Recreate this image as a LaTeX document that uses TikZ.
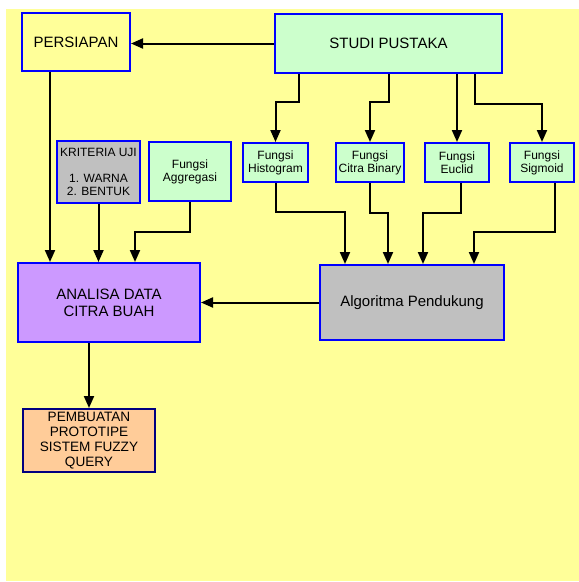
\documentclass[tikz,border=0pt]{standalone}
\usepackage{fontspec}
\setmainfont{Liberation Sans}
\usetikzlibrary{arrows.meta,calc}
\definecolor{bgyellow}{HTML}{FFFF99}
\definecolor{boxgreen}{HTML}{CCFFCC}
\definecolor{boxgray}{HTML}{C0C0C0}
\definecolor{boxpurple}{HTML}{CC99FF}
\definecolor{boxorange}{HTML}{FFCC99}
\definecolor{bordblue}{HTML}{0000FF}
\definecolor{bordnavy}{HTML}{000080}
\tikzset{
  box/.style={draw=bordblue, line width=2pt, rectangle, inner sep=0pt, align=center, text=black},
  bigtxt/.style={font=\fontsize{15}{17}\selectfont},
  smalltxt/.style={font=\fontsize{12}{13}\selectfont},
  midtxt/.style={font=\fontsize{13.6}{15}\selectfont},
  arr/.style={line width=2pt, -{Triangle[length=12pt,width=10pt]}}
}
\begin{document}
\begin{tikzpicture}[x=1pt,y=-1pt]
\useasboundingbox (0,0) rectangle (579,582);
\fill[white] (0,0) rectangle (579,582);
\fill[bgyellow] (6,9) rectangle (579,581);
% nodes
\node[box, bigtxt, fill=bgyellow, minimum width=108pt, minimum height=58pt] (pers) at (76,42) {PERSIAPAN};
\node[box, bigtxt, fill=boxgreen, minimum width=227pt, minimum height=59pt] (studi) at (388.5,43.5) {STUDI PUSTAKA};
\node[box, smalltxt, fill=boxgray, minimum width=83pt, minimum height=62pt] (krit) at (98.5,172) {KRITERIA UJI\\[13pt]1. WARNA\\2. BENTUK};
\node[box, smalltxt, fill=boxgreen, minimum width=82pt, minimum height=59pt] (aggr) at (190,171.5) {Fungsi\\Aggregasi};
\node[box, smalltxt, fill=boxgreen, minimum width=65pt, minimum height=39pt] (hist) at (275.5,162.5) {Fungsi\\Histogram};
\node[box, smalltxt, fill=boxgreen, minimum width=68pt, minimum height=39pt] (bin) at (370,162.5) {Fungsi\\Citra Binary};
\node[box, smalltxt, fill=boxgreen, minimum width=64pt, minimum height=39pt] (euc) at (457,162.5) {Fungsi\\Euclid};
\node[box, smalltxt, fill=boxgreen, minimum width=64pt, minimum height=39pt] (sig) at (542,162.5) {Fungsi\\Sigmoid};
\node[box, bigtxt, fill=boxgray, minimum width=184pt, minimum height=75pt] (algo) at (412,302.5) {Algoritma Pendukung};
\node[box, bigtxt, fill=boxpurple, minimum width=182pt, minimum height=79pt] (anal) at (109,302.5) {ANALISA DATA\\CITRA BUAH};
\node[box, midtxt, draw=bordnavy, fill=boxorange, minimum width=132pt, minimum height=63pt] (pemb) at (89,440.5) {PEMBUATAN\\PROTOTIPE\\SISTEM FUZZY\\QUERY};
% connectors
\draw[arr] (studi.west) -- (studi.west -| pers.east);
\draw[arr] ([xshift=25pt]studi.south west) -- ++(0,28) -| (hist.north);
\draw[arr] (studi.south) -- ++(0,28) -| (bin.north);
\draw[arr] (studi.south -| euc.north) -- (euc.north);
\draw[arr] ([xshift=-28pt]studi.south east) -- ++(0,30) -| (sig.north);
\draw[arr] (hist.south) -- ++(0,29) -| ([xshift=26pt]algo.north west);
\draw[arr] (bin.south) -- ++(0,30) -| ([xshift=69pt]algo.north west);
\draw[arr] ([xshift=4pt]euc.south) -- ++(0,30) -| ([xshift=104pt]algo.north west);
\draw[arr] ([xshift=13pt]sig.south) -- ++(0,49) -| ([xshift=155pt]algo.north west);
\draw[arr] ([xshift=29pt]pers.south west) -- ([xshift=33pt]anal.north west);
\draw[arr] (krit.south) -- (krit.south |- anal.north);
\draw[arr] (aggr.south) -- ++(0,30) -| ([xshift=118pt]anal.north west);
\draw[arr] (algo.west) -- (anal.east);
\draw[arr] (anal.south -| pemb.north) -- (pemb.north);
\end{tikzpicture}
\end{document}
